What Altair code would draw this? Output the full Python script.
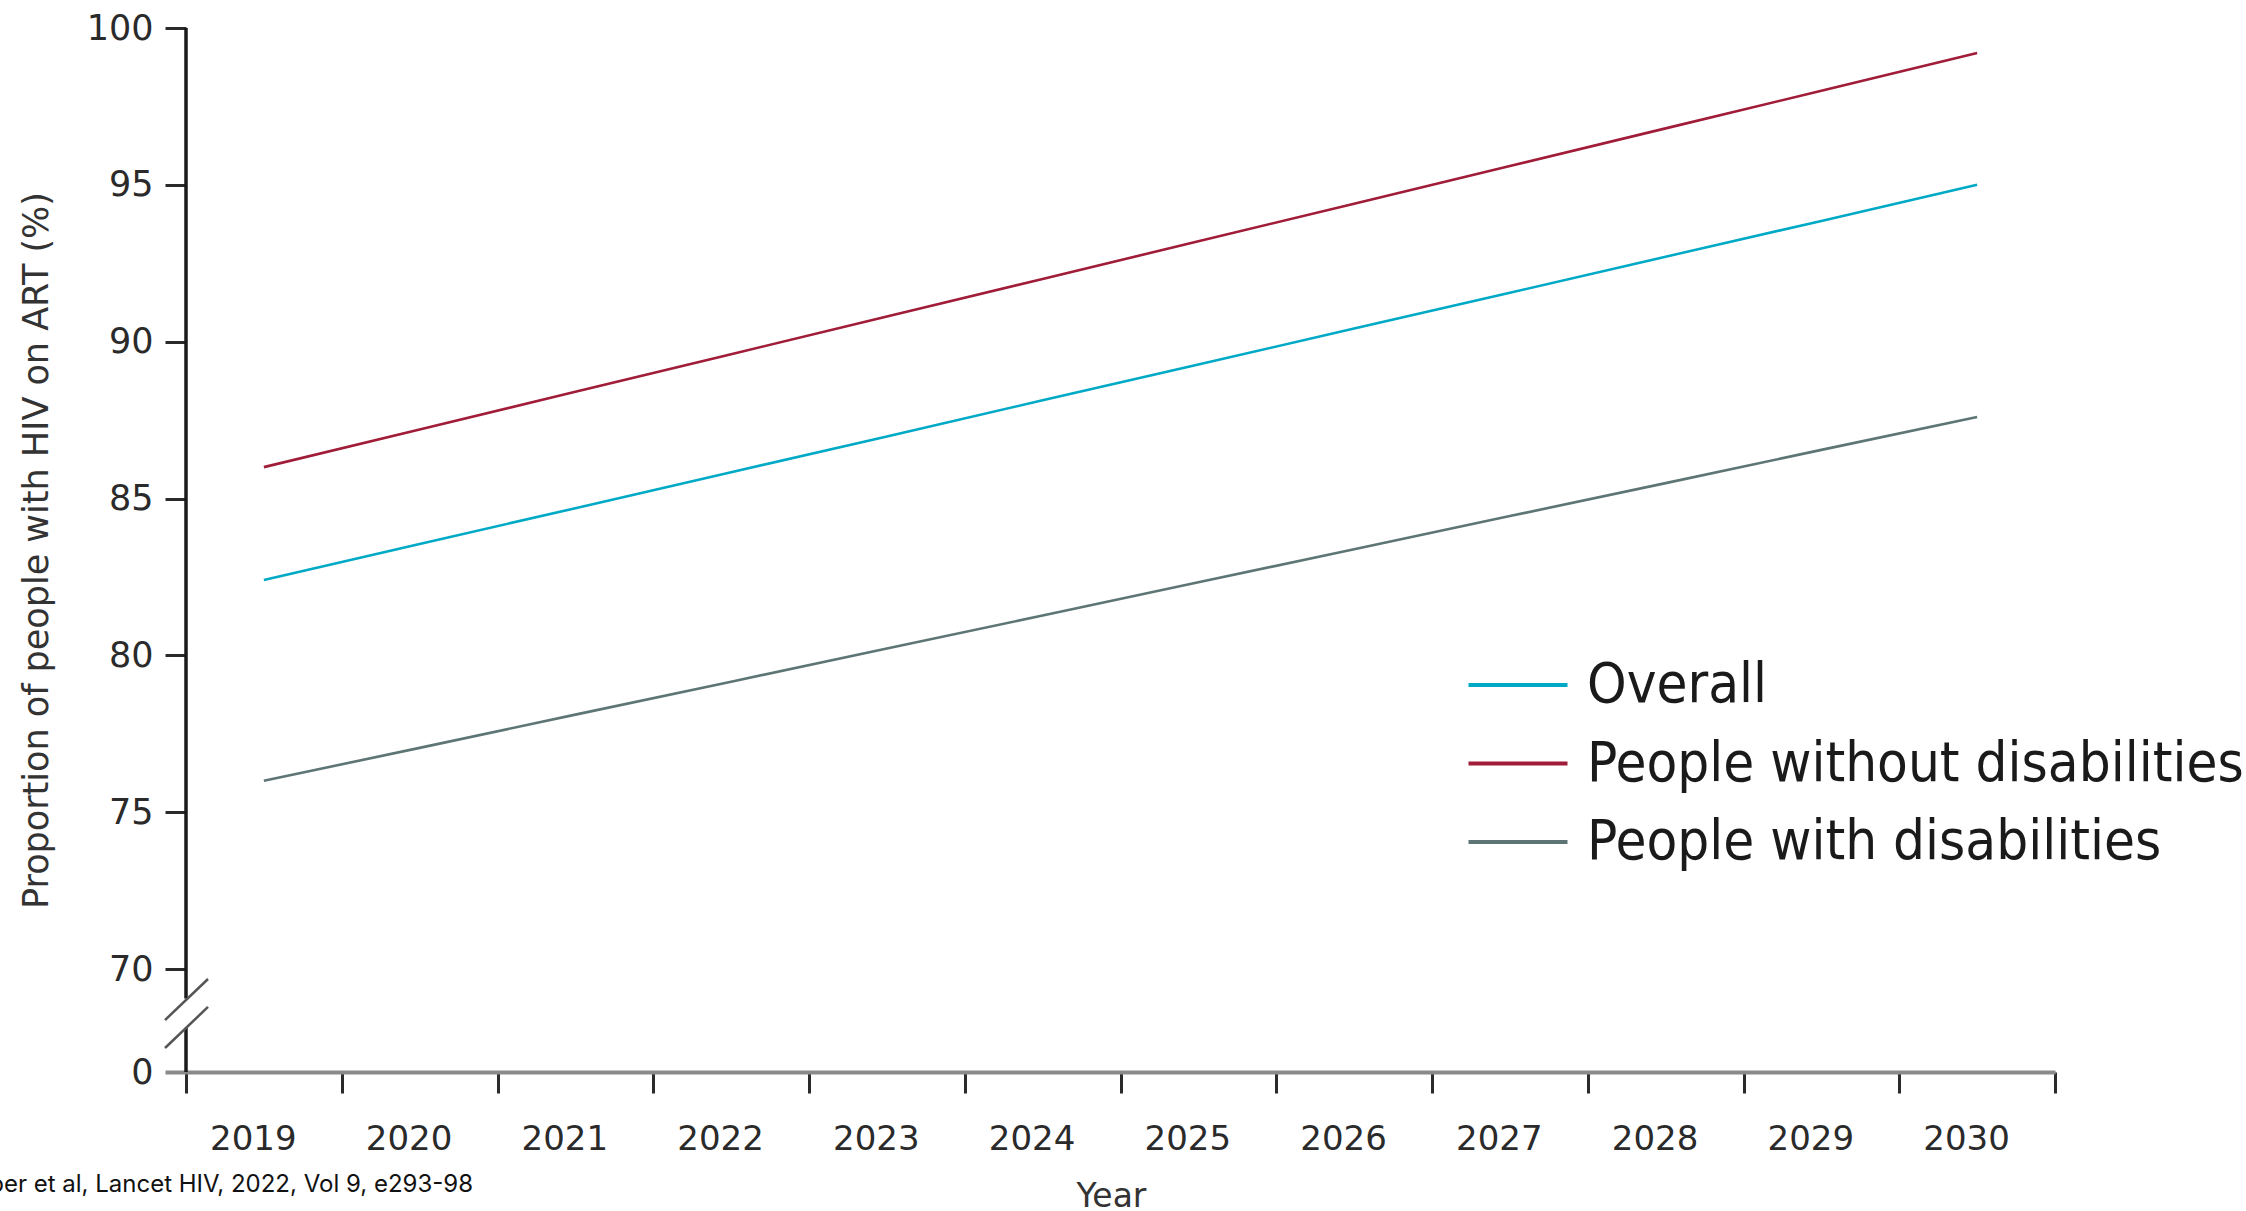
import altair as alt
import pandas as pd

# ---- data ----
years = [2019, 2020, 2021, 2022, 2023, 2024, 2025, 2026, 2027, 2028, 2029, 2030]
overall = [82.40, 83.55, 84.69, 85.84, 86.98, 88.13, 89.27, 90.42, 91.56, 92.71, 93.85, 95.00]
without_dis = [86.00, 87.20, 88.40, 89.60, 90.80, 92.00, 93.20, 94.40, 95.60, 96.80, 98.00, 99.20]
with_dis = [76.00, 77.05, 78.11, 79.16, 80.22, 81.27, 82.33, 83.38, 84.44, 85.49, 86.55, 87.60]

series_names = ["Overall", "People without disabilities", "People with disabilities"]
series_colors = ["#00A9C6", "#A01C38", "#5E7576"]
y_tick_values = [0, 70, 75, 80, 85, 90, 95, 100]

# axis-break decoration (in data units of the y axis)
axis_seg_start = [100, 30]
axis_seg_end = [50, 0]
slash_low = [35.3, 16.3]
slash_high = [63.2, 44.2]

source_text = "Kuper et al, Lancet HIV, 2022, Vol 9, e293-98"

rows = []
for name, vals in zip(series_names, [overall, without_dis, with_dis]):
    for yr, v in zip(years, vals):
        rows.append({"year": yr, "value": v, "series": name})
df = pd.DataFrame(rows)

W, H = 1869, 1044
yscale = alt.Scale(domain=[0, 70, 100], range=[H, 941, 0], nice=False, zero=False)

x_axis = alt.Axis(
    tickBand="extent",
    domainColor="#8a8a8a", domainWidth=4,
    tickColor="#2a2a2a", tickWidth=3, tickSize=21,
    labelFont="DejaVu Sans", labelFontSize=34, labelColor="#2a2a2a",
    labelAngle=0, labelBaseline="alphabetic", labelPadding=56, labelOffset=-11,
    title="Year", titleFont="DejaVu Sans", titleFontSize=33, titleFontWeight="normal",
    titleColor="#333333", titleX=925, titleY=134, titleBaseline="alphabetic",
    titleAlign="center",
)

Y_TITLE = "Proportion of people with HIV on ART (%)"
y_axis = alt.Axis(
    values=y_tick_values, domain=False,
    tickSize=21,
    tickColor={"condition": {"test": "datum.value === 0", "value": "#8a8a8a"}, "value": "#2a2a2a"},
    tickWidth={"condition": {"test": "datum.value === 0", "value": 4}, "value": 3},
    labelFont="DejaVu Sans", labelFontSize=35, labelColor="#2a2a2a", labelPadding=12,
    title=Y_TITLE,
    titleFont="DejaVu Sans", titleFontSize=35, titleFontWeight="normal", titleColor="#333333",
    titleX=-150, titleY=522, titleAlign="center", titleBaseline="middle",
)

legend = alt.Legend(
    orient="none", legendX=1304, legendY=629, title=None,
    symbolType="M-3,0H3", symbolSize=1089, symbolStrokeWidth=4,
    labelFont="DejaVu Sans Condensed",
    labelFontSize=56, labelColor="#1a1a1a", labelOffset=41, labelLimit=2000,
    rowPadding=22.5, padding=0,
)

lines = alt.Chart(df).mark_line(strokeWidth=2.6).encode(
    x=alt.X("year:O", scale=alt.Scale(type="band", paddingInner=0, paddingOuter=0),
            bandPosition=0.5, axis=x_axis),
    y=alt.Y("value:Q", scale=yscale, axis=y_axis, title=Y_TITLE),
    color=alt.Color("series:N", scale=alt.Scale(domain=series_names, range=series_colors),
                    legend=legend),
)

seg_df = pd.DataFrame({"s": axis_seg_start, "e": axis_seg_end})
axis_line = alt.Chart(seg_df).mark_rule(color="#1a1a1a", strokeWidth=3.5).encode(
    x=alt.value(0),
    y=alt.Y("s:Q", scale=yscale, axis=y_axis, title=Y_TITLE),
    y2="e:Q",
)

slash_df = pd.DataFrame({"lo": slash_low, "hi": slash_high})
slashes = alt.Chart(slash_df).mark_rule(color="#555555", strokeWidth=2.5).encode(
    x=alt.value(-21), x2=alt.value(22),
    y=alt.Y("lo:Q", scale=yscale, axis=y_axis, title=Y_TITLE),
    y2="hi:Q",
)

src_df = pd.DataFrame({"t": [source_text]})
source = alt.Chart(src_df).mark_text(
    align="right", baseline="alphabetic", font="Inter", fontSize=24, color="#111111"
).encode(x=alt.value(287), y=alt.value(1164), text="t:N")

chart = alt.layer(lines, axis_line, slashes, source).properties(
    width=W, height=H,
    autosize=alt.AutoSizeParams(type="none"),
    padding={"left": 186, "top": 28, "right": 191, "bottom": 139},
).configure_view(stroke=None).configure_axis(grid=False)

chart.save("out.html", embed_options={"renderer": "svg", "actions": False})
